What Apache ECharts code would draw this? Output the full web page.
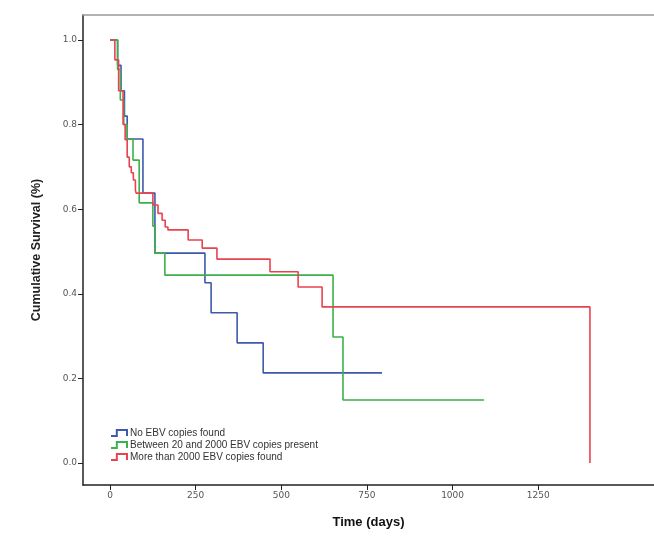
<!DOCTYPE html>
<html><head><meta charset="utf-8">
<script src="https://cdn.jsdelivr.net/npm/echarts@6/dist/echarts.min.js"></script>
<style>html,body{margin:0;padding:0;background:#fff}#c{width:654px;height:538px}</style>
</head><body><div id="c"></div>
<script>
// Kaplan-Meier step data: [time (days), survival after event]
const seriesNames = ["No EBV copies found", "Between 20 and 2000 EBV copies present", "More than 2000 EBV copies found"];
const noEbv = [[0,1.0],[15,1.0],[22,0.94],[32,0.88],[42,0.82],[50,0.766],[96,0.638],[131,0.496],[277,0.426],[295,0.355],[371,0.284],[447,0.213],[794,0.213]];
const between = [[0,1.0],[15,1.0],[22,0.93],[30,0.858],[40,0.80],[50,0.766],[67,0.716],[85,0.615],[125,0.56],[131,0.496],[160,0.444],[651,0.298],[680,0.149],[1092,0.149]];
const moreThan = [[0,1.0],[8,1.0],[14,0.953],[25,0.88],[38,0.80],[44,0.764],[50,0.723],[56,0.70],[62,0.686],[68,0.669],[74,0.645],[76,0.638],[125,0.61],[140,0.59],[152,0.574],[161,0.558],[169,0.551],[228,0.527],[269,0.508],[312,0.482],[467,0.452],[549,0.416],[619,0.369],[1401,0.0]];
const xTicks = [0,250,500,750,1000,1250];
const yTicks = [0,0.2,0.4,0.6,0.8,1.0];
const colors = ['#3e58ac','#3cb04a','#e8434f'];

const chart = echarts.init(document.getElementById('c'));
const stepIcon = 'path://M0,8 L8,8 L8,0 L22,0 L22,8';
chart.setOption({
  animation:false,
  grid:{left:83, top:15, right:0, bottom:53},
  xAxis:[{
    type:'value', min:-79, max:1588,
    axisLine:{show:true, onZero:false, lineStyle:{color:'#222', width:1.5}},
    axisTick:{show:true, customValues:xTicks, length:5, lineStyle:{color:'#222'}},
    axisLabel:{customValues:xTicks, color:'#555', fontSize:9, fontFamily:'DejaVu Sans', margin:6,
      formatter:v=>String(v)},
    splitLine:{show:false},
    name:'Time (days)', nameLocation:'middle', nameGap:31,
    nameTextStyle:{fontSize:13, fontWeight:'bold', color:'#111', fontFamily:'Liberation Sans'}
  },{
    type:'value', position:'top', min:-79, max:1588,
    axisLine:{show:true, onZero:false, lineStyle:{color:'#999', width:1.5}},
    axisTick:{show:false}, axisLabel:{show:false}, splitLine:{show:false}
  }],
  yAxis:{
    type:'value', min:-0.052, max:1.059,
    axisLine:{show:true, onZero:false, lineStyle:{color:'#222', width:1.5}},
    axisTick:{show:true, customValues:yTicks, length:5, lineStyle:{color:'#222'}},
    axisLabel:{customValues:yTicks, color:'#555', fontSize:9, fontFamily:'DejaVu Sans', margin:6,
      formatter:v=>v.toFixed(1)},
    splitLine:{show:false},
    name:'Cumulative Survival (%)', nameLocation:'middle', nameGap:40, nameRotate:90,
    nameTextStyle:{fontSize:12.5, fontWeight:'bold', color:'#222', fontFamily:'Liberation Sans'}
  },
  legend:{
    orient:'vertical', left:105, top:423, itemWidth:16, itemHeight:6, itemGap:2,
    textStyle:{fontSize:10, lineHeight:10, color:'#333', fontFamily:'Liberation Sans', padding:[0,0,0,-2]},
    data:seriesNames.map((n,i)=>({name:n, icon:stepIcon,
      itemStyle:{color:'rgba(0,0,0,0)', borderColor:colors[i], borderWidth:2}}))
  },
  series:[
    {name:seriesNames[0], type:'line', step:'end', data:noEbv, symbol:'none', color:colors[0], lineStyle:{width:1.6}},
    {name:seriesNames[1], type:'line', step:'end', data:between, symbol:'none', color:colors[1], lineStyle:{width:1.6}},
    {name:seriesNames[2], type:'line', step:'end', data:moreThan, symbol:'none', color:colors[2], lineStyle:{width:1.6}}
  ]
});
</script></body></html>
